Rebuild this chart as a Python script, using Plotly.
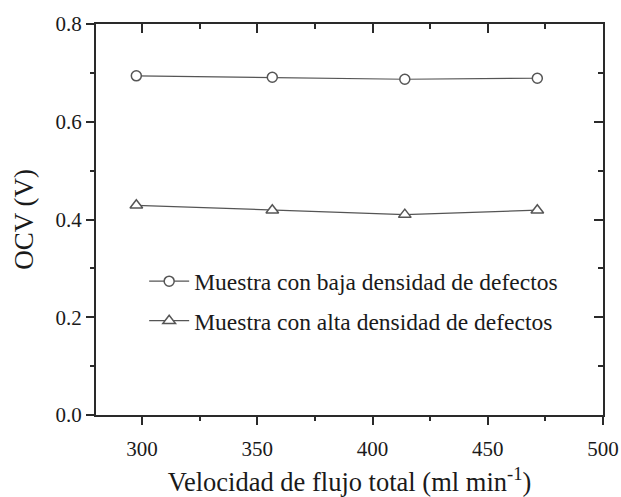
import plotly.graph_objects as go

flow = [297.5, 356.5, 414.0, 471.5]
ocv_low = [0.694, 0.691, 0.687, 0.689]
ocv_high = [0.429, 0.419, 0.410, 0.419]
names = ["Muestra con baja densidad de defectos", "Muestra con alta densidad de defectos"]

FONT = "Liberation Serif"
LC = "#555555"
AX = "#2a2a2a"
TC = "#1a1a1a"

fig = go.Figure()
fig.add_trace(go.Scatter(x=flow, y=ocv_low, mode="lines+markers", name=names[0],
                         legendgroup="a",
                         line=dict(color=LC, width=1.2),
                         marker=dict(symbol="circle", size=10, color="white",
                                     line=dict(color=LC, width=1.5))))
fig.add_trace(go.Scatter(x=flow, y=ocv_high, mode="lines+markers", name=names[1],
                         legendgroup="b",
                         line=dict(color=LC, width=1.2),
                         marker=dict(symbol="triangle-up", size=11, color="white",
                                     line=dict(color=LC, width=1.5))))
# invisible trace to anchor mirrored axes
fig.add_trace(go.Scatter(x=[flow[0]], y=[ocv_low[0]], xaxis="x2", yaxis="y2",
                         mode="markers", marker=dict(opacity=0), showlegend=False,
                         hoverinfo="skip"))

fig.update_layout(
    width=621, height=497,
    margin=dict(l=96, r=18, t=24, b=82),
    paper_bgcolor="white", plot_bgcolor="white",
    font=dict(family=FONT, size=21, color=TC),
    showlegend=True,
    legend=dict(x=0.095, y=0.398, xanchor="left", yanchor="top",
                bgcolor="rgba(0,0,0,0)", font=dict(family=FONT, size=23.5, color=TC),
                tracegroupgap=6, itemwidth=40),
    xaxis=dict(range=[280, 500], tick0=300, dtick=50, ticks="outside", ticklen=8,
               tickwidth=1.5, tickcolor=AX, showline=True, linecolor=AX, linewidth=2,
               showgrid=False, zeroline=False, ticklabelstandoff=6, automargin=False,
               tickfont=dict(family=FONT, size=21, color=TC),
               minor=dict(ticks="outside", ticklen=4, dtick=25, tickcolor=AX, tickwidth=1.5),
               title=dict(text="Velocidad de flujo total (ml min<sup>-1</sup>)",
                          font=dict(family=FONT, size=26.5, color=TC), standoff=23)),
    yaxis=dict(range=[0, 0.8], tick0=0, dtick=0.2, tickformat=".1f", ticks="outside",
               ticklen=8, tickwidth=1.5, tickcolor=AX, showline=True, linecolor=AX,
               linewidth=2, showgrid=False, zeroline=False, automargin=False,
               tickfont=dict(family=FONT, size=21, color=TC),
               minor=dict(ticks="outside", ticklen=4, dtick=0.1, tickcolor=AX, tickwidth=1.5),
               title=dict(text="OCV (V)", font=dict(family=FONT, size=27, color=TC),
                          standoff=14)),
    xaxis2=dict(range=[280, 500], overlaying="x", side="top", anchor="y2", tick0=300, dtick=50,
                ticks="inside", ticklen=9, tickwidth=1.5, tickcolor=AX, showline=True,
                linecolor=AX, linewidth=2, showgrid=False, zeroline=False,
                showticklabels=False, automargin=False,
                minor=dict(ticks="inside", ticklen=5, dtick=25, tickcolor=AX, tickwidth=1.5)),
    yaxis2=dict(range=[0, 0.8], overlaying="y", side="right", anchor="x2", tick0=0, dtick=0.2,
                ticks="inside", ticklen=9, tickwidth=1.5, tickcolor=AX, showline=True,
                linecolor=AX, linewidth=2, showgrid=False, zeroline=False,
                showticklabels=False, automargin=False,
                minor=dict(ticks="inside", ticklen=5, dtick=0.1, tickcolor=AX, tickwidth=1.5)),
)

fig.write_html("out.html")
